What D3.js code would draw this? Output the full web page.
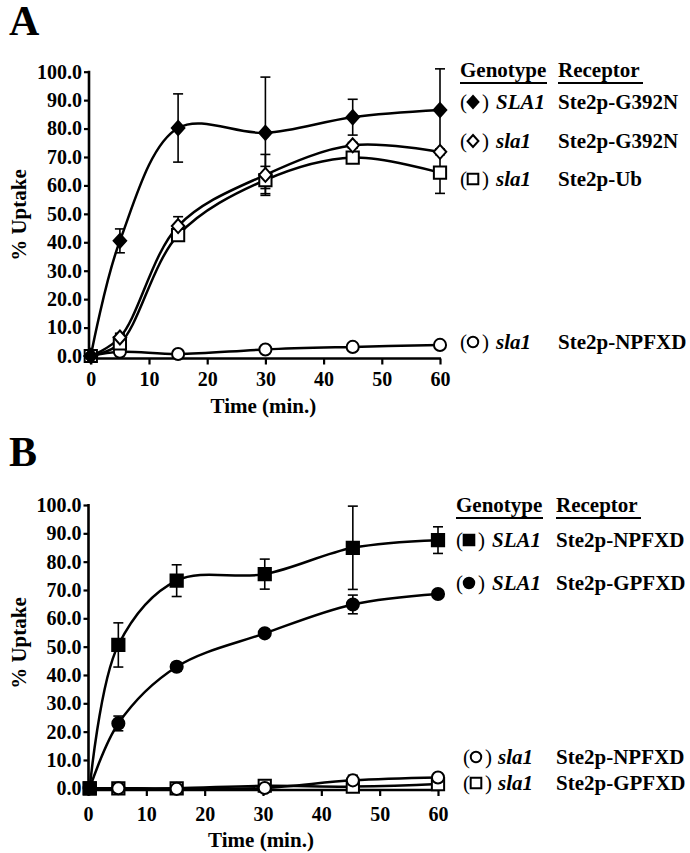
<!DOCTYPE html>
<html>
<head>
<meta charset="utf-8">
<script src="https://cdn.jsdelivr.net/npm/d3@7"></script>
<style>
  body { margin: 0; background: #fff; }
</style>
</head>
<body>
<svg id="chart" width="690" height="853"></svg>
<script>
// time points (min.)
const timeA = [0, 5, 15, 30, 45, 60];
const timeB = [0.3, 5.2, 15.2, 30.3, 45.4, 60];

// panel A, % uptake and error
const aSLA1_G392N = [0, 40.5, 80.2, 78.5, 84.0, 86.5];
const aSLA1_G392N_err = [0, 4.2, 12.0, 19.6, 6.3, 14.5];
const aSla1_G392N = [0, 6.5, 45.7, 63.7, 74.1, 71.8];
const aSla1_G392N_err = [0, 1.5, 3.3, 7.2, 1.0, 1.0];
const aSla1_Ub = [0, 4.4, 42.5, 61.9, 69.8, 64.5];
const aSla1_Ub_err = [0, 3.2, 2.0, 4.8, 1.0, 7.3];
const aSla1_NPFXD = [0, 1.5, 0.7, 2.3, 3.2, 3.9];
const aSla1_NPFXD_err = [0, 0.5, 0.3, 0.5, 1.2, 0.5];

// panel B
const bSLA1_NPFXD = [0, 50.6, 73.3, 75.6, 84.9, 87.6];
const bSLA1_NPFXD_err = [0, 7.8, 5.6, 5.3, 14.7, 4.7];
const bSLA1_GPFXD = [0, 22.9, 42.9, 54.7, 64.9, 68.6];
const bSLA1_GPFXD_err = [0, 2.6, 1.5, 1.0, 3.3, 1.0];
const bSla1_NPFXD = [0, 0, -0.2, 0.1, 2.8, 3.8];
const bSla1_NPFXD_err = [0, 0.3, 0.3, 0.5, 1.8, 0.5];
const bSla1_GPFXD = [0, 0, 0, 0.9, 0.6, 1.5];
const bSla1_GPFXD_err = [0, 0, 0, 0.5, 0.8, 1.0];

const yTicks = [0, 10, 20, 30, 40, 50, 60, 70, 80, 90, 100];
const xTicks = [0, 10, 20, 30, 40, 50, 60];

const FONT = "'Liberation Serif', 'DejaVu Serif', 'Noto Serif', serif";
const svg = d3.select("#chart");

function txt(g, x, y, s, size) {
  return g.append("text").attr("x", x).attr("y", y)
    .attr("font-family", FONT)
    .style("font-family", FONT).style("font-weight", "bold")
    .style("font-size", size + "px").attr("fill", "#000").text(s);
}

// diamond a bit wider than d3's own
const wideDiamond = {
  draw(ctx, size) {
    const h = Math.sqrt(size) * 0.78;
    const w = h * 0.9;
    ctx.moveTo(0, -h);
    ctx.lineTo(w, 0);
    ctx.lineTo(0, h);
    ctx.lineTo(-w, 0);
    ctx.closePath();
  }
};
const shapes = {
  diamond: { type: wideDiamond, size: 80 },
  square: { type: d3.symbolSquare, size: 150 },
  circle: { type: d3.symbolCircle, size: 115 }
};

function marker(g, x, y, shape, filled, scale) {
  let s = shapes[shape];
  g.append("path")
    .attr("d", d3.symbol().type(s.type).size(s.size * (scale || 1))())
    .attr("transform", "translate(" + x + "," + y + ")")
    .attr("fill", filled ? "#000" : "#fff")
    .attr("stroke", "#000")
    .attr("stroke-width", 2);
}

function drawPanel(cfg) {
  const x = d3.scaleLinear().domain([0, 60]).range([cfg.x0, cfg.x1]);
  const y = d3.scaleLinear().domain([0, 100]).range([cfg.y0, cfg.y1]);
  const g = svg.append("g");

  // axes
  g.append("g")
    .attr("transform", "translate(" + cfg.ax + ",0)")
    .call(d3.axisLeft(y).tickValues(yTicks).tickFormat(d3.format(".1f")).tickSize(5).tickPadding(2))
    .attr("font-family", FONT);
  g.append("g")
    .attr("transform", "translate(0," + cfg.ay + ")")
    .call(d3.axisBottom(x).tickValues(xTicks).tickFormat(d3.format("d")).tickSize(6).tickPadding(cfg.xpad))
    .attr("font-family", FONT);
  g.selectAll(".domain").remove();
  g.selectAll(".tick line").attr("stroke", "#000").attr("stroke-width", 2.2);
  g.selectAll(".tick text")
    .style("font-family", FONT).style("font-weight", "bold")
    .style("font-size", "20px").attr("fill", "#000");
  g.append("line").attr("x1", cfg.ax).attr("x2", cfg.ax)
    .attr("y1", y(100) - 1).attr("y2", cfg.ay + 1)
    .attr("stroke", "#000").attr("stroke-width", 2.6);
  g.append("line").attr("x1", cfg.ax - 1).attr("x2", x(60) + 1)
    .attr("y1", cfg.ay).attr("y2", cfg.ay)
    .attr("stroke", "#000").attr("stroke-width", 2.6);

  // labels
  txt(g, (cfg.x0 + cfg.x1) / 2 - 2, cfg.ay + cfg.titleOff, "Time (min.)", 21)
    .attr("text-anchor", "middle");
  txt(g, 0, 0, "% Uptake", 21)
    .attr("transform", "translate(" + 26 + "," + cfg.ylabY + ") rotate(-90)")
    .attr("text-anchor", "middle");
  txt(g, 9, cfg.letterY, cfg.letter, 42);

  const line = d3.line()
    .x(d => x(d[0]))
    .y(d => y(d[1]))
    .curve(d3.curveCatmullRom.alpha(0.5));

  // lines first, then error bars, then markers
  cfg.series.forEach(s => {
    let pts = cfg.time.map((t, i) => [t, s.values[i]]);
    g.append("path").attr("d", line(pts))
      .attr("fill", "none").attr("stroke", "#000").attr("stroke-width", 2.5);
  });
  cfg.series.forEach(s => {
    cfg.time.forEach((t, i) => {
      let e = s.err[i];
      if (!e) return;
      let v = s.values[i];
      let px = x(t);
      g.append("line").attr("x1", px).attr("x2", px)
        .attr("y1", y(v - e)).attr("y2", y(v + e))
        .attr("stroke", "#000").attr("stroke-width", 1.6);
      [v - e, v + e].forEach(c => {
        g.append("line").attr("x1", px - 5).attr("x2", px + 5)
          .attr("y1", y(c)).attr("y2", y(c))
          .attr("stroke", "#000").attr("stroke-width", 1.6);
      });
    });
  });
  cfg.series.forEach(s => {
    cfg.time.forEach((t, i) => marker(g, x(t), y(s.values[i]), s.shape, s.filled));
  });

  // legend
  const lg = svg.append("g");
  txt(lg, cfg.leg.geno, cfg.leg.head, "Genotype", 21);
  txt(lg, cfg.leg.rec, cfg.leg.head, "Receptor", 21);
  lg.append("line").attr("x1", cfg.leg.geno).attr("x2", cfg.leg.geno + 87)
    .attr("y1", cfg.leg.head + 6).attr("y2", cfg.leg.head + 6).attr("stroke", "#000").attr("stroke-width", 2);
  lg.append("line").attr("x1", cfg.leg.rec).attr("x2", cfg.leg.rec + 85)
    .attr("y1", cfg.leg.head + 6).attr("y2", cfg.leg.head + 6).attr("stroke", "#000").attr("stroke-width", 2);

  cfg.series.forEach(s => {
    let r = s.row;
    txt(lg, r.x, r.y, "(", 21).style("font-weight", "normal");
    marker(lg, r.x + 13, r.y - 7, s.shape, s.filled, 0.75);
    txt(lg, r.x + 22, r.y, ")", 21).style("font-weight", "normal");
    txt(lg, r.gx, r.y, s.genotype, 21).style("font-style", "italic");
    txt(lg, cfg.leg.rec, r.y, s.receptor, 21);
  });
}

drawPanel({
  letter: "A", letterY: 35,
  x0: 90.8, x1: 440, y0: 356, y1: 71.7, ax: 89, ay: 358.5, xpad: 7,
  titleOff: 54, ylabY: 215,
  time: timeA,
  leg: { geno: 460, rec: 558, head: 77 },
  series: [
    { values: aSla1_NPFXD, err: aSla1_NPFXD_err, shape: "circle", filled: false, genotype: "sla1", receptor: "Ste2p-NPFXD", row: { x: 460, y: 349, gx: 496 } },
    { values: aSla1_Ub, err: aSla1_Ub_err, shape: "square", filled: false, genotype: "sla1", receptor: "Ste2p-Ub", row: { x: 460, y: 186, gx: 496 } },
    { values: aSla1_G392N, err: aSla1_G392N_err, shape: "diamond", filled: false, genotype: "sla1", receptor: "Ste2p-G392N", row: { x: 460, y: 148, gx: 496 } },
    { values: aSLA1_G392N, err: aSLA1_G392N_err, shape: "diamond", filled: true, genotype: "SLA1", receptor: "Ste2p-G392N", row: { x: 460, y: 109, gx: 496 } }
  ]
});

drawPanel({
  letter: "B", letterY: 466,
  x0: 88, x1: 438, y0: 788.3, y1: 505, ax: 88.5, ay: 790, xpad: 11,
  titleOff: 57, ylabY: 643,
  time: timeB,
  leg: { geno: 456, rec: 556, head: 512 },
  series: [
    { values: bSla1_GPFXD, err: bSla1_GPFXD_err, shape: "square", filled: false, genotype: "sla1", receptor: "Ste2p-GPFXD", row: { x: 463, y: 790, gx: 498 } },
    { values: bSla1_NPFXD, err: bSla1_NPFXD_err, shape: "circle", filled: false, genotype: "sla1", receptor: "Ste2p-NPFXD", row: { x: 463, y: 764, gx: 498 } },
    { values: bSLA1_GPFXD, err: bSLA1_GPFXD_err, shape: "circle", filled: true, genotype: "SLA1", receptor: "Ste2p-GPFXD", row: { x: 456, y: 590, gx: 492 } },
    { values: bSLA1_NPFXD, err: bSLA1_NPFXD_err, shape: "square", filled: true, genotype: "SLA1", receptor: "Ste2p-NPFXD", row: { x: 456, y: 547, gx: 492 } }
  ]
});
</script>
</body>
</html>
